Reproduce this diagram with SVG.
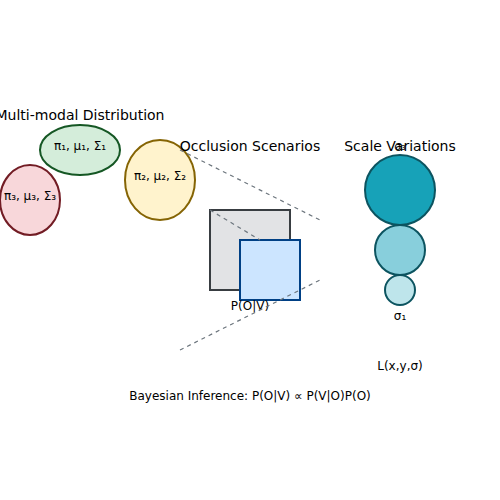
<svg xmlns="http://www.w3.org/2000/svg" width="500" height="500" viewBox="0 0 500 500">
<style>
text{font-family:"DejaVu Sans","Liberation Sans",sans-serif;fill:#000;text-anchor:middle}
.t{font-size:14px}
.l{font-size:12px}
.s{font-size:11px}
.d{stroke:#6c757d;stroke-width:1.2;stroke-dasharray:4,4;fill:none}
</style>
<rect width="500" height="500" fill="#fff"/>
<g id="title-multimodal"><text class="t" x="80" y="120">Multi-modal Distribution</text></g>
<g id="gauss1"><ellipse cx="80" cy="150" rx="40" ry="25" fill="#d4edda" stroke="#155724" stroke-width="2"/><text class="l" x="80" y="150">π₁, μ₁, Σ₁</text></g>
<g id="gauss3"><ellipse cx="30" cy="200" rx="30" ry="35" fill="#f8d7da" stroke="#721c24" stroke-width="2"/><text class="l" x="30" y="200">π₃, μ₃, Σ₃</text></g>
<g id="gauss2"><ellipse cx="160" cy="180" rx="35" ry="40" fill="#fff3cd" stroke="#856404" stroke-width="2"/><text class="l" x="160" y="180">π₂, μ₂, Σ₂</text></g>
<g id="title-occlusion"><text class="t" x="250" y="151">Occlusion Scenarios</text></g>
<g id="occluder"><rect x="210" y="210" width="80" height="80" fill="#e2e3e5" stroke="#383d41" stroke-width="2"/></g>
<g id="object"><rect x="240" y="240" width="60" height="60" fill="#cce5ff" stroke="#004085" stroke-width="2"/></g>
<g id="pov"><text class="l" x="250" y="310">P(O|V)</text></g>
<g id="title-scale"><text class="t" x="400" y="151">Scale Variations</text></g>
<g id="scale3"><circle cx="400" cy="190" r="35" fill="#17a2b8" stroke="#0c5460" stroke-width="2"/><text class="s" x="400" y="150">σ₃</text></g>
<g id="scale2"><circle cx="400" cy="250" r="25" fill="#88cfdc" stroke="#0c5460" stroke-width="2"/></g>
<g id="scale1"><circle cx="400" cy="290" r="15" fill="#bee5eb" stroke="#0c5460" stroke-width="2"/><text class="l" x="400" y="320">σ₁</text></g>
<g id="lxys"><text class="l" x="400" y="370">L(x,y,σ)</text></g>
<g id="bayes"><text class="l" x="250" y="400">Bayesian Inference: P(O|V) ∝ P(V|O)P(O)</text></g>
<g id="connectors">
<line class="d" x1="180" y1="150" x2="320" y2="220"/>
<line class="d" x1="210" y1="210" x2="260" y2="240"/>
<line class="d" x1="180" y1="350" x2="320" y2="280"/>
</g>
</svg>
